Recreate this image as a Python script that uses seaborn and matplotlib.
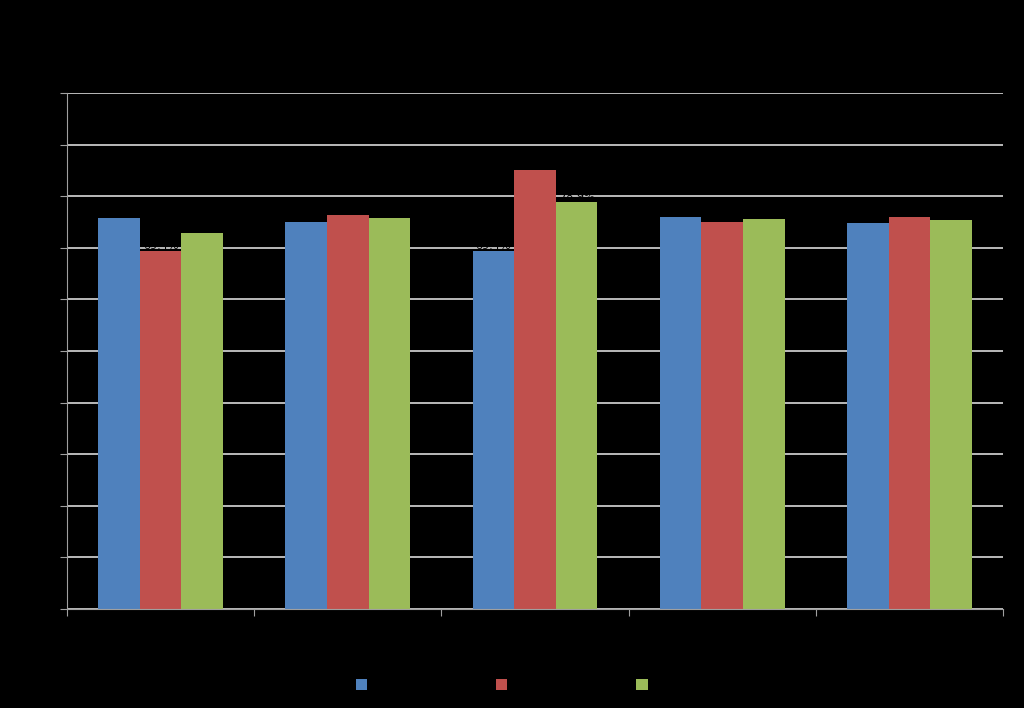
import matplotlib
matplotlib.use("Agg")
import matplotlib.pyplot as plt
import seaborn as sns
import pandas as pd
import numpy as np

categories = ["Group 1", "Group 2", "Group 3", "Group 4", "Group 5"]
series = ["Series 1", "Series 2", "Series 3"]
s1 = [75.8, 75.0, 69.4, 76.0, 74.8]
s2 = [69.4, 76.4, 85.1, 75.0, 76.0]
s3 = [72.9, 75.8, 78.9, 75.6, 75.4]
colors = ["#4f81bd", "#c0504d", "#9bbb59"]

rows = []
for name, vals in zip(series, [s1, s2, s3]):
    for c, v in zip(categories, vals):
        rows.append({"cat": c, "series": name, "value": v})
df = pd.DataFrame(rows)

fig = plt.figure(figsize=(10.24, 7.08), dpi=100, facecolor="black")
ax = fig.add_axes([67/1024, 1-609/708, 936/1024, 516/708])
ax.set_facecolor("black")
sns.barplot(data=df, x="cat", y="value", hue="series", palette=colors,
            width=0.667, saturation=1, ax=ax, legend=True)
ax.set_ylim(0, 100)
ax.set_xlim(-0.5, 4.5)
ax.set_yticks(np.arange(0, 101, 10))
ax.yaxis.grid(True, color="#d9d9d9", lw=1.2)
ax.set_axisbelow(True)
for sp in ["top", "right"]:
    ax.spines[sp].set_visible(False)
for sp in ["left", "bottom"]:
    ax.spines[sp].set_color("#a0a0a0")
ax.set_xticks(np.arange(-0.5, 5, 1), minor=False)
ax.set_xticklabels([])
ax.set_xticks(range(5), minor=True)
ax.set_xticklabels(categories, minor=True, color="black")
ax.tick_params(axis="x", which="minor", length=0)
ax.tick_params(axis="x", which="major", length=5, color="#a0a0a0")
ax.tick_params(axis="y", length=5, color="#a0a0a0", labelcolor="black")
ax.set_xlabel("")
ax.set_ylabel("")
for c in ax.containers:
    ax.bar_label(c, fmt="%.1f%%", color="black", fontsize=8)
leg = ax.legend(loc="upper center", bbox_to_anchor=(0.5, -0.11), ncol=3,
                frameon=False, handlelength=0.8, handleheight=0.8,
                columnspacing=4.5, fontsize=10)
for t in leg.get_texts():
    t.set_color("black")
fig.savefig("out.png", dpi=100, facecolor="black")
